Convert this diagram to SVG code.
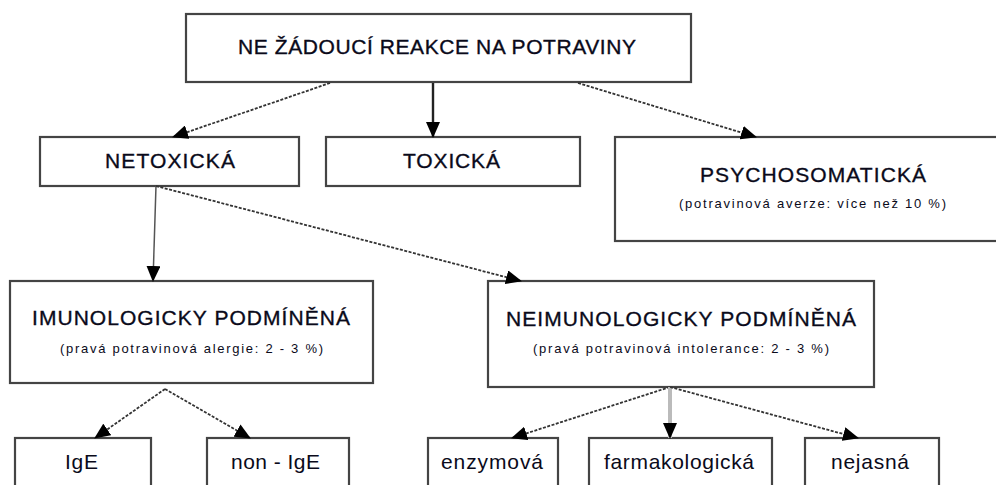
<svg xmlns="http://www.w3.org/2000/svg" width="996" height="485" viewBox="0 0 996 485">
<defs>
<marker id="ah" markerUnits="userSpaceOnUse" markerWidth="16" markerHeight="14" refX="15" refY="7" orient="auto">
<path d="M0,0 L16,7 L0,14 Z" fill="#000"/>
</marker>
<style>
.box{fill:#fff;stroke:#444;stroke-width:2.2}
.t{font-family:"Liberation Sans",Arial,sans-serif;fill:#0a0a1a}
.h{font-size:21px;stroke:#0a0a1a;stroke-width:0.35}
.s{font-size:13px}
.b{font-size:21px}
.dash{fill:none;stroke:#333;stroke-width:1.8;stroke-dasharray:3 1.5}
</style>
</defs>
<rect width="996" height="485" fill="#fff"/>
<g id="n-root">
<rect class="box" x="186" y="14" width="505" height="68"/>
<text class="t h" x="238" y="54" textLength="398" lengthAdjust="spacing">NE ŽÁDOUCÍ REAKCE NA POTRAVINY</text>
</g>
<g id="n-netoxicka">
<rect class="box" x="40" y="137" width="259" height="49"/>
<text class="t h" x="105" y="168" textLength="130" lengthAdjust="spacing">NETOXICKÁ</text>
</g>
<g id="n-toxicka">
<rect class="box" x="326" y="137" width="254" height="49"/>
<text class="t h" x="403" y="168" textLength="97" lengthAdjust="spacing">TOXICKÁ</text>
</g>
<g id="n-psycho">
<rect class="box" x="615" y="137" width="390" height="104"/>
<text class="t h" x="700" y="182" textLength="226" lengthAdjust="spacing">PSYCHOSOMATICKÁ</text>
<text class="t s" x="679" y="208" textLength="267" lengthAdjust="spacing">(potravinová averze: více než 10 %)</text>
</g>
<g id="n-imuno">
<rect class="box" x="10" y="281" width="363" height="102"/>
<text class="t h" x="32" y="325" textLength="318" lengthAdjust="spacing">IMUNOLOGICKY PODMÍNĚNÁ</text>
<text class="t s" x="60" y="353" textLength="263" lengthAdjust="spacing">(pravá potravinová alergie: 2 - 3 %)</text>
</g>
<g id="n-neimuno">
<rect class="box" x="488" y="281" width="386" height="106"/>
<text class="t h" x="506" y="326" textLength="350" lengthAdjust="spacing">NEIMUNOLOGICKY PODMÍNĚNÁ</text>
<text class="t s" x="533" y="353" textLength="296" lengthAdjust="spacing">(pravá potravinová intolerance: 2 - 3 %)</text>
</g>
<g id="n-ige">
<rect class="box" x="15" y="438" width="136" height="60"/>
<text class="t b" x="65" y="469" textLength="33" lengthAdjust="spacing">IgE</text>
</g>
<g id="n-nonige">
<rect class="box" x="207" y="438" width="142" height="60"/>
<text class="t b" x="231" y="469" textLength="89" lengthAdjust="spacing">non - IgE</text>
</g>
<g id="n-enzym">
<rect class="box" x="428" y="438" width="130" height="60"/>
<text class="t b" x="441" y="469" textLength="102" lengthAdjust="spacing">enzymová</text>
</g>
<g id="n-farmako">
<rect class="box" x="589" y="438" width="183" height="60"/>
<text class="t b" x="604" y="469" textLength="150" lengthAdjust="spacing">farmakologická</text>
</g>
<g id="n-nejasna">
<rect class="box" x="805" y="438" width="134" height="60"/>
<text class="t b" x="831" y="469" textLength="78" lengthAdjust="spacing">nejasná</text>
</g>
<g id="connectors">
<line class="dash" x1="330" y1="83" x2="173" y2="137" marker-end="url(#ah)"/>
<line x1="433" y1="83" x2="433" y2="137" stroke="#222" stroke-width="2.4" marker-end="url(#ah)"/>
<line class="dash" x1="578" y1="83" x2="756" y2="137" marker-end="url(#ah)"/>
<line x1="156" y1="186" x2="153" y2="281" stroke="#555" stroke-width="1.5" marker-end="url(#ah)"/>
<line class="dash" x1="156" y1="186" x2="521" y2="281" marker-end="url(#ah)"/>
<line class="dash" x1="165" y1="389" x2="95" y2="438" marker-end="url(#ah)"/>
<line class="dash" x1="165" y1="389" x2="250" y2="438" marker-end="url(#ah)"/>
<line class="dash" x1="670" y1="387" x2="512" y2="438" marker-end="url(#ah)"/>
<line x1="670" y1="387" x2="670" y2="438" stroke="#bbb" stroke-width="4" marker-end="url(#ah)"/>
<line class="dash" x1="670" y1="387" x2="858" y2="438" marker-end="url(#ah)"/>
</g>
</svg>
